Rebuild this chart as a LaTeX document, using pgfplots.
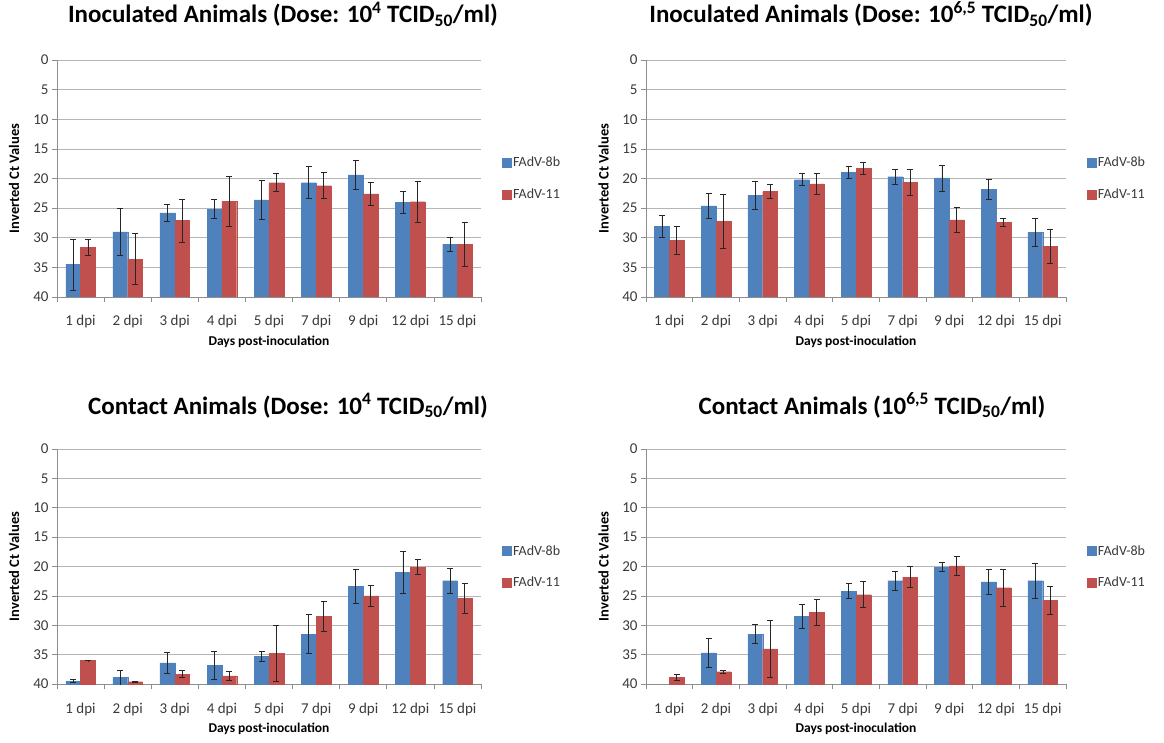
\documentclass[border=0pt]{standalone}
\usepackage{fontspec}
\setmainfont{Carlito}
\usepackage{pgfplots}
\pgfplotsset{compat=1.18}
\usepackage{pgfplotstable}

\definecolor{c8b}{HTML}{4F81BD}
\definecolor{c11}{HTML}{C0504D}
\definecolor{gridc}{HTML}{B5B5B5}
\definecolor{axc}{HTML}{8E8E8E}
\definecolor{tickc}{HTML}{3A3A3A}

% Inoculated animals, dose 10^4
\pgfplotstableread{
x v8 e8 v11 e11
0 34.5 4.3 31.6 1.4
1 29.0 3.9 33.6 4.3
2 25.8 1.4 27.1 3.6
3 25.2 1.6 23.8 4.2
4 23.6 3.3 20.7 1.5
5 20.7 2.7 21.2 2.2
6 19.4 2.5 22.6 2.0
7 24.0 1.9 23.9 3.5
8 31.1 1.2 31.1 3.7
}\tabA
% Inoculated animals, dose 10^6.5
\pgfplotstableread{
x v8 e8 v11 e11
0 28.1 1.8 30.4 2.4
1 24.6 2.1 27.2 4.6
2 22.8 2.4 22.2 1.2
3 20.2 1.0 20.9 1.7
4 19.0 1.0 18.3 1.0
5 19.7 1.3 20.6 2.2
6 19.9 2.2 27.0 2.1
7 21.8 1.7 27.4 0.6
8 29.1 2.3 31.4 2.9
}\tabB
% Contact animals, dose 10^4
\pgfplotstableread{
x v8 e8 v11 e11
0 39.5 0.3 36.0 0.05
1 38.9 1.3 39.6 0.1
2 36.4 1.8 38.3 0.6
3 36.8 2.4 38.6 0.8
4 35.3 0.8 34.8 4.8
5 31.5 3.3 28.5 2.6
6 23.4 2.9 25.0 1.8
7 21.0 3.5 20.1 1.3
8 22.4 2.1 25.4 2.6
}\tabC
% Contact animals, dose 10^6.5 (FAdV-8b: no value at 1 dpi)
\pgfplotstableread{
x v8 e8
1 34.7 2.4
2 31.5 1.6
3 28.5 2.1
4 24.2 1.3
5 22.4 1.6
6 20.1 0.8
7 22.6 2.2
8 22.4 3.0
}\tabDa
\pgfplotstableread{
x v11 e11
0 38.9 0.5
1 37.9 0.3
2 34.0 4.8
3 27.8 2.2
4 24.8 2.2
5 21.8 1.8
6 19.9 1.6
7 23.6 3.1
8 25.8 2.4
}\tabDb

\pgfplotsset{
  panel/.style={
    scale only axis, anchor=south west,
    xmin=-0.5, xmax=8.5, ymin=0, ymax=40,
    ybar=0pt, bar width=14.8pt,
    xtick={0,...,8},
    xticklabels={1 dpi,2 dpi,3 dpi,4 dpi,5 dpi,7 dpi,9 dpi,12 dpi,15 dpi},
    ytick={0,5,...,40},
    yticklabels={40,35,30,25,20,15,10,5,0},
    axis x line*=bottom, axis y line*=left,
    axis line style={draw=axc, line width=0.7pt},
    tick align=outside, major tick length=5pt,
    xtick style={draw=none},
    ytick style={draw=axc, line width=0.7pt},
    extra x ticks={-0.5,0.5,...,8.5},
    extra x tick labels={},
    extra x tick style={xtick style={draw=axc, line width=0.7pt}, grid=none},
    ymajorgrids, grid style={draw=gridc, line width=0.7pt},
    tick label style={font=\fontsize{15}{17}\selectfont, text=tickc},
    xticklabel style={anchor=center, yshift=-20pt},
    every axis x label/.style={at={(axis description cs:0.5,0)}, anchor=center, yshift=-45pt, font=\bfseries\fontsize{13.5}{15}\selectfont},
    every axis y label/.style={at={(axis description cs:-0.101,0.5)}, anchor=center, rotate=90, font=\bfseries\fontsize{14.5}{16}\selectfont},
    xlabel={Days post-inoculation},
    ylabel={Inverted Ct Values},
    title style={at={(axis description cs:0.5,1)}, anchor=base, yshift=31pt, font=\bfseries\fontsize{25}{28}\selectfont},
    legend style={at={(axis description cs:1.05,0.5)}, anchor=west, draw=none, fill=none, inner sep=0pt, row sep=16pt, font=\fontsize{14}{16}\selectfont, text=tickc},
    legend cell align=left,
    legend image code/.code={\fill[##1] (0pt,-4.5pt) rectangle (8.5pt,4.5pt);},
  },
  s8/.style={fill=c8b, draw=c8b, line width=0.2pt,
    error bars/.cd, y dir=both, y explicit,
    error bar style={draw=black!85, line width=0.7pt, solid},
    error mark options={rotate=90, mark size=3pt, draw=black!85, line width=0.7pt}},
  s11/.style={fill=c11, draw=c11, line width=0.2pt,
    error bars/.cd, y dir=both, y explicit,
    error bar style={draw=black!85, line width=0.7pt, solid},
    error mark options={rotate=90, mark size=3pt, draw=black!85, line width=0.7pt}},
}

\begin{document}
\begin{tikzpicture}
\useasboundingbox (0pt,0pt) rectangle (1164pt,742pt);

\begin{axis}[panel, at={(57pt,445pt)}, width=424pt, height=237pt,
  title={Inoculated Animals (Dose: 10\textsuperscript{4} TCID\textsubscript{50}/ml)},
  title style={xshift=14pt}]
\addplot[s8] table[x=x, y expr=40-\thisrow{v8}, y error=e8] {\tabA};
\addplot[s11] table[x=x, y expr=40-\thisrow{v11}, y error=e11] {\tabA};
\legend{FAdV-8b, FAdV-11}
\end{axis}

\begin{axis}[panel, at={(646pt,445pt)}, width=420pt, height=237pt,
  title={Inoculated Animals (Dose: 10\textsuperscript{6,5} TCID\textsubscript{50}/ml)},
  title style={xshift=15pt}]
\addplot[s8] table[x=x, y expr=40-\thisrow{v8}, y error=e8] {\tabB};
\addplot[s11] table[x=x, y expr=40-\thisrow{v11}, y error=e11] {\tabB};
\legend{FAdV-8b, FAdV-11}
\end{axis}

\begin{axis}[panel, at={(57pt,58pt)}, width=424pt, height=235pt,
  title={Contact Animals (Dose: 10\textsuperscript{4} TCID\textsubscript{50}/ml)},
  title style={xshift=19pt, yshift=-2pt}]
\addplot[s8] table[x=x, y expr=40-\thisrow{v8}, y error=e8] {\tabC};
\addplot[s11] table[x=x, y expr=40-\thisrow{v11}, y error=e11] {\tabC};
\legend{FAdV-8b, FAdV-11}
\end{axis}

\begin{axis}[panel, at={(646pt,58pt)}, width=420pt, height=235pt,
  title={Contact Animals (10\textsuperscript{6,5} TCID\textsubscript{50}/ml)},
  title style={xshift=16pt, yshift=-2pt}]
\addplot[s8] table[x=x, y expr=40-\thisrow{v8}, y error=e8] {\tabDa};
\addplot[s11] table[x=x, y expr=40-\thisrow{v11}, y error=e11] {\tabDb};
\legend{FAdV-8b, FAdV-11}
\end{axis}
\end{tikzpicture}
\end{document}
